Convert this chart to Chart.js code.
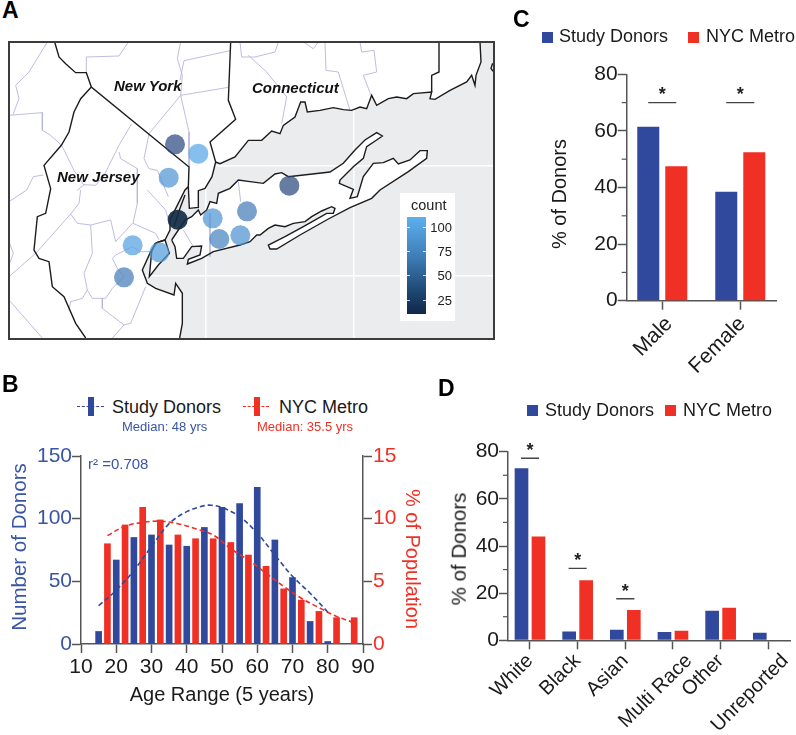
<!DOCTYPE html>
<html>
<head>
<meta charset="utf-8">
<script src="https://cdn.jsdelivr.net/npm/chart.js@4"></script>
<style>
  html, body { margin: 0; padding: 0; background: #fff; }
  body { position: relative; width: 796px; height: 735px; overflow: hidden; font-family: "Liberation Sans", Arial, sans-serif; color: #1a1a1a; }
  canvas { position: absolute; }
  .txt { position: absolute; white-space: nowrap; line-height: 1; }
  .box { position: absolute; }
</style>
</head>
<body>
<canvas id="mapChart" width="484" height="296" style="left:9px;top:42px"></canvas>
<canvas id="ageChart" width="450" height="305" style="left:0;top:430px"></canvas>
<canvas id="sexChart" width="296" height="335" style="left:500px;top:50px"></canvas>
<canvas id="raceChart" width="356" height="335" style="left:440px;top:400px"></canvas>
<script>
// Panel A: map units are just a grid laid over the map frame
const sites = ['s1', 's2', 's3', 's4', 's5', 's6', 's7', 's8', 's9', 's10', 's11', 's12'];
const siteX = [525, 595, 506, 533, 638, 741, 868, 658, 721, 398, 478, 372];
const siteY = [433, 461, 533, 659, 655, 634, 557, 717, 706, 736, 757, 832];
const siteCount = [45, 105, 95, 8, 95, 78, 43, 82, 92, 102, 98, 78];
const countTicks = [100, 75, 50, 25];

const mainCoast = [[1440,126],[1443,186],[1428,226],[1425,256],[1415,226],[1400,246],[1350,271],[1305,298],[1290,296],[1295,276],[1240,281],[1220,296],[1190,291],[1165,296],[1130,316],[1115,286],[1100,326],[1080,321],[1055,331],[1030,329],[1000,323],[960,331],[922,336],[915,306],[902,306],[885,351],[850,376],[840,401],[815,393],[785,421],[745,421],[705,471],[660,491],[647,486],[636,530],[615,565],[595,572],[595,622],[568,625],[565,560],[555,570],[530,620],[510,660],[510,690],[495,720],[470,728],[452,755],[427,810],[442,850],[467,865],[522,885],[527,850],[547,880],[547,970],[539,1014]];
const longIsland = [[515,720],[555,660],[575,650],[595,630],[602,645],[620,630],[630,605],[650,610],[655,580],[690,565],[715,540],[750,545],[790,550],[825,522],[845,518],[865,530],[990,516],[1030,490],[1065,450],[1095,420],[1130,398],[1147,408],[1130,420],[1100,440],[1090,475],[1060,500],[1020,540],[1018,550],[1060,568],[1050,595],[1072,590],[1090,530],[1120,490],[1150,488],[1180,475],[1195,492],[1230,480],[1260,452],[1282,452],[1280,475],[1225,515],[1140,570],[1115,595],[1050,623],[985,657],[900,705],[830,747],[810,747],[805,735],[855,710],[910,680],[980,640],[1000,640],[1005,625],[995,620],[965,633],[935,650],[915,665],[880,670],[855,680],[825,675],[805,685],[780,705],[770,705],[750,725],[720,735],[640,755],[605,775],[562,792],[565,778],[600,765],[605,738],[575,740],[550,775],[530,775],[525,740]];
const statenIsland = [[465,730],[495,720],[508,760],[475,795],[448,830],[455,755]];
const stateLines = [
  [[164,126],[177,171],[197,191],[227,218],[259,218],[274,261],[567,501],[565,560]],
  [[274,261],[242,296],[222,336],[207,396],[184,436],[132,496],[152,566],[137,640],[112,650],[102,750],[117,775],[147,785],[157,860],[192,890],[227,970],[257,1014]],
  [[692,126],[685,301],[707,358],[630,426],[647,486]],
  [[1317,126],[1317,216],[1295,226],[1295,276]],
  [[555,585],[540,625],[522,680]],
  [[1478,190],[1473,205],[1479,214]]
];
const countyLines = [
  [[27,346],[127,338],[127,391],[152,406],[185,436],[222,511],[252,556]],
  [[142,126],[87,216],[47,256],[57,296],[39,343]],
  [[259,218],[259,171],[357,168],[385,126]],
  [[542,126],[532,176],[547,226],[542,286],[567,396],[567,501]],
  [[690,152],[552,182],[540,240]],
  [[685,262],[542,286],[447,401],[432,476],[447,506],[472,511],[480,530],[505,590]],
  [[395,371],[357,436],[312,526],[287,556],[252,554],[232,571]],
  [[357,456],[362,476],[412,506],[412,610],[399,670],[467,700],[477,720]],
  [[442,570],[497,630],[505,660]],
  [[242,570],[237,610],[212,642],[107,760],[27,830]],
  [[212,642],[232,670],[272,675],[332,660],[347,725],[397,670]],
  [[272,675],[277,760],[252,820],[262,870],[277,895],[317,895],[337,865],[372,830]],
  [[262,870],[247,895],[212,905],[207,930]],
  [[307,895],[307,925],[372,975],[337,1014]],
  [[372,975],[392,970],[437,860]],
  [[27,900],[127,1014]],
  [[27,725],[40,760],[27,795]],
  [[27,605],[80,570],[100,530],[130,525]],
  [[337,775],[347,765],[397,740],[422,755],[452,755]],
  [[337,775],[352,805],[372,830]],
  [[715,545],[722,605]],
  [[630,640],[630,770]],
  [[550,690],[580,740]],
  [[720,126],[725,171],[765,171],[825,156],[835,126]],
  [[745,166],[800,216],[860,291],[845,371]],
  [[975,126],[978,211],[1015,216],[1030,266],[1050,331]],
  [[1080,126],[1085,156],[1122,151],[1130,216],[1090,226],[1115,291]],
  [[910,126],[940,146],[955,126]]
];
const mapGridX = [616, 1060];
const mapGridY = [497, 826];

// Panel B
const donorAge = [15, 20, 25, 30, 35, 40, 45, 50, 55, 60, 65, 70, 75, 80];
const donorCount = [10, 67, 85, 87, 79, 78, 93, 109, 112, 125, 83, 53, 18, 2];
const donorFitAge = [15, 20, 25, 30, 35, 40, 45, 47, 50, 55, 60, 65, 70, 75, 80];
const donorFit = [30.5, 43, 58.7, 77.8, 96, 105.6, 110.4, 110.7, 108.9, 101.7, 88.4, 71, 54, 40.5, 25.5];
const metroAge = [17.5, 22.5, 27.5, 32.5, 37.5, 42.5, 47.5, 52.5, 57.5, 62.5, 67.5, 72.5, 77.5, 82.5, 87.5];
const metroPct = [8.0, 9.5, 10.9, 9.9, 8.7, 8.4, 8.4, 8.1, 7.1, 6.2, 4.4, 3.5, 2.6, 2.1, 2.1];
const metroFit = [8.65, 9.4, 9.7, 9.8, 9.6, 9.2, 8.7, 7.6, 6.7, 5.65, 4.6, 3.65, 2.9, 2.2, 1.7];

// Panel C
const sexLabels = ['Male', 'Female'];
const sexDonors = [61.5, 38.5];
const sexMetro = [47.5, 52.5];
const sexSigAt = [0, 1];
const sexSigY = [70, 70];

// Panel D
const raceLabels = ['White', 'Black', 'Asian', 'Multi Race', 'Other', 'Unreported'];
const raceDonors = [73, 3.7, 4.5, 3.5, 12.5, 3.2];
const raceMetro = [44, 25.5, 12.8, 4, 13.8, null];
const raceSigAt = [0, 1, 2];
const raceSigY = [77.2, 30.5, 17.6];

const BLUE = '#31499c';
const RED = '#f03024';
const BLUE_TXT = '#3a55a5';
const AXIS = '#555';
const FONT = '"Liberation Sans", Arial, sans-serif';

Chart.defaults.font.family = FONT;
Chart.defaults.animation = false;
Chart.defaults.responsive = false;
Chart.defaults.plugins.legend.display = false;
Chart.defaults.plugins.tooltip.enabled = false;

function xy(pairs) {
  return pairs.map(p => ({ x: p[0], y: p[1] }));
}

function mix(a, b, t) {
  return a.map((v, i) => Math.round(v + (b[i] - v) * t));
}

function countColor(c) {
  const t = Math.min(1, Math.max(0, (c - 8) / 100));
  const low = [19, 43, 67], mid = [45, 75, 130], high = [90, 170, 235];
  const rgb = t < 0.37 ? mix(low, mid, t / 0.37) : mix(mid, high, (t - 0.37) / 0.63);
  const a = c < 20 ? 0.92 : 0.72;
  return 'rgba(' + rgb.join(',') + ',' + a + ')';
}

function addText(str, x, y, css) {
  const el = document.createElement('span');
  el.className = 'txt';
  el.textContent = str;
  el.style.left = x + 'px';
  el.style.top = y + 'px';
  el.style.transform = 'translateY(-50%)';
  Object.assign(el.style, css || {});
  document.body.appendChild(el);
  return el;
}

function addBox(x, y, w, h, color, css) {
  const el = document.createElement('div');
  el.className = 'box';
  el.style.left = x + 'px';
  el.style.top = y + 'px';
  el.style.width = w + 'px';
  el.style.height = h + 'px';
  el.style.background = color;
  Object.assign(el.style, css || {});
  document.body.appendChild(el);
  return el;
}

function rotatedTitle(str, x, y, deg, size, color) {
  addText(str, x, y, {
    fontSize: size + 'px',
    color: color,
    transform: 'translate(-50%,-50%) rotate(' + deg + 'deg)'
  });
}

// land has to go on top of the white graticule but under everything else
const landFill = {
  id: 'landFill',
  beforeDatasetsDraw(chart) {
    const { ctx, scales } = chart;
    const corners = [[27, 1014], [27, 126]];
    const shapes = [mainCoast.concat(corners), longIsland, statenIsland];
    ctx.save();
    ctx.fillStyle = '#fff';
    shapes.forEach(s => {
      ctx.beginPath();
      s.forEach((p, i) => {
        const px = scales.x.getPixelForValue(p[0]);
        const py = scales.y.getPixelForValue(p[1]);
        if (i === 0) ctx.moveTo(px, py); else ctx.lineTo(px, py);
      });
      ctx.closePath();
      ctx.fill();
    });
    ctx.restore();
  }
};

const mapBackground = {
  id: 'mapBackground',
  beforeDraw(chart) {
    chart.ctx.fillStyle = '#ebecee';
    chart.ctx.fillRect(0, 0, chart.width, chart.height);
  }
};

const minorTicks = {
  id: 'minorTicks',
  afterDraw(chart, args, opts) {
    if (!opts.values) return;
    const s = chart.scales.y;
    const ctx = chart.ctx;
    ctx.save();
    ctx.strokeStyle = AXIS;
    ctx.lineWidth = 1.2;
    opts.values.forEach(v => {
      const y = s.getPixelForValue(v);
      ctx.beginPath();
      ctx.moveTo(s.right, y);
      ctx.lineTo(s.right - 5, y);
      ctx.stroke();
    });
    ctx.restore();
  }
};

const sigStars = {
  id: 'sigStars',
  afterDatasetsDraw(chart, args, opts) {
    if (!opts.at) return;
    const ctx = chart.ctx;
    ctx.save();
    ctx.fillStyle = '#222';
    ctx.font = 'bold 18px ' + FONT;
    ctx.textAlign = 'center';
    ctx.textBaseline = 'middle';
    opts.at.forEach((a, i) => {
      ctx.fillText('*', chart.scales.x.getPixelForValue(a), chart.scales.y.getPixelForValue(opts.y[i]) - opts.lift);
    });
    ctx.restore();
  }
};

// the original figure nudges some rotated labels sideways
const labelShift = {
  id: 'labelShift',
  beforeDraw(chart, args, opts) {
    if (!opts.dx) return;
    chart.scales.x.getLabelItems().forEach((item, i) => {
      item.options.translation[0] += opts.dx[i];
    });
  }
};

Chart.register(minorTicks, sigStars, labelShift);

// Panel A
const mapDatasets = [{
  label: 'count',
  data: sites.map((s, i) => ({ x: siteX[i], y: siteY[i] })),
  pointRadius: 10,
  pointBorderWidth: 0,
  pointBackgroundColor: siteCount.map(countColor),
  showLine: false
}];
stateLines.concat([mainCoast, longIsland.concat([longIsland[0]]), statenIsland.concat([statenIsland[0]])]).forEach(l => {
  mapDatasets.push({ data: xy(l), showLine: true, borderColor: '#1c1c1c', borderWidth: 1.4, pointRadius: 0, tension: 0 });
});
countyLines.forEach(l => {
  mapDatasets.push({ data: xy(l), showLine: true, borderColor: '#b6b6dc', borderWidth: 0.9, pointRadius: 0, tension: 0 });
});

new Chart(document.getElementById('mapChart'), {
  type: 'scatter',
  data: { datasets: mapDatasets },
  plugins: [mapBackground, landFill],
  options: {
    layout: { padding: 0, autoPadding: false },
    scales: {
      x: {
        min: 27, max: 1479,
        border: { display: false },
        grid: { color: '#fff', lineWidth: 1.5, drawTicks: false },
        ticks: { display: false },
        afterBuildTicks: s => { s.ticks = mapGridX.map(v => ({ value: v })); },
        afterFit: s => { s.height = 0; }
      },
      y: {
        min: 126, max: 1014, reverse: true,
        border: { display: false },
        grid: { color: '#fff', lineWidth: 1.5, drawTicks: false },
        ticks: { display: false },
        afterBuildTicks: s => { s.ticks = mapGridY.map(v => ({ value: v })); },
        afterFit: s => { s.width = 0; }
      }
    }
  }
});

addBox(8, 41, 483, 295, 'transparent', { border: '2px solid #3c3c3c' });

const mapLabel = { fontSize: '15px', fontWeight: 'bold', fontStyle: 'italic', color: '#111' };
addText('New York', 114, 85, mapLabel);
addText('New Jersey', 57, 176, mapLabel);
addText('Connecticut', 252, 87, mapLabel);

// count legend
addBox(400, 193, 55, 128, '#fff');
addText('count', 411, 205, { fontSize: '14.5px', color: '#222' });
addBox(407, 217, 19, 97, 'linear-gradient(#5cb0ee,#3f7fb8 40%,#1d4570 78%,#10284a)');
const tickY = [227, 251.3, 275.3, 299.7];
countTicks.forEach((c, i) => {
  addBox(407, tickY[i], 3, 1, 'rgba(255,255,255,.8)');
  addBox(423, tickY[i], 3, 1, 'rgba(255,255,255,.8)');
  addText(String(c), 0, tickY[i], { left: 'auto', right: (796 - 452) + 'px', fontSize: '13px', color: '#222' });
});

// Panel B
const axisBase = {
  border: { color: AXIS, width: 1.5 },
  grid: { drawOnChartArea: false, color: AXIS, tickColor: AXIS, tickWidth: 1.5, tickLength: 9 }
};

new Chart(document.getElementById('ageChart'), {
  type: 'bar',
  data: {
    datasets: [
      { type: 'line', data: donorFitAge.map((a, i) => ({ x: a, y: donorFit[i] })), yAxisID: 'y', borderColor: BLUE, borderWidth: 1.6, borderDash: [5, 3], pointRadius: 0, tension: 0.35 },
      { type: 'line', data: metroAge.map((a, i) => ({ x: a, y: metroFit[i] })), yAxisID: 'y2', borderColor: RED, borderWidth: 1.6, borderDash: [5, 3], pointRadius: 0, tension: 0.35 },
      { data: donorAge.map((a, i) => ({ x: a, y: donorCount[i] })), yAxisID: 'y', backgroundColor: BLUE, barThickness: 6, grouped: false },
      { data: metroAge.map((a, i) => ({ x: a, y: metroPct[i] })), yAxisID: 'y2', backgroundColor: RED, barThickness: 6, grouped: false }
    ]
  },
  options: {
    layout: { padding: { top: 26 } },
    scales: {
      x: {
        ...axisBase,
        type: 'linear', offset: false, min: 10, max: 90,
        grid: { ...axisBase.grid, offset: false },
        ticks: { stepSize: 10, color: '#1a1a1a', font: { size: 21 }, padding: 2, maxRotation: 0 },
        title: { display: true, text: 'Age Range (5 years)', color: '#1a1a1a', font: { size: 20 }, padding: { top: 0, bottom: 28 } },
        afterFit: s => { s.height = 91; }
      },
      y: {
        ...axisBase,
        position: 'left', min: 0, max: 150,
        ticks: { stepSize: 50, color: BLUE_TXT, font: { size: 21 }, padding: 0 },
        afterFit: s => { s.width = 81; }
      },
      y2: {
        ...axisBase,
        position: 'right', min: 0, max: 15,
        ticks: { stepSize: 5, color: RED, font: { size: 21 }, padding: 1 },
        afterFit: s => { s.width = 87; }
      }
    }
  }
});

rotatedTitle('Number of Donors', 19, 547, -90, 20.5, BLUE_TXT);
rotatedTitle('% of Population', 413, 559, 90, 20, RED);

const legendFont = { fontSize: '18px', color: '#1a1a1a' };
addBox(77, 406, 27, 0, 'transparent', { borderTop: '1.6px dashed ' + BLUE });
addBox(87.5, 397, 6, 19, BLUE);
addText('Study Donors', 112, 407, legendFont);
addBox(243, 406, 26, 0, 'transparent', { borderTop: '1.6px dashed ' + RED });
addBox(254, 397, 6, 19, RED);
addText('NYC Metro', 279, 407, legendFont);
addText('Median: 48 yrs', 122, 426, { fontSize: '13px', color: BLUE_TXT });
addText('Median: 35.5 yrs', 257, 426, { fontSize: '13px', color: RED });
addText('r² =0.708', 88, 463, { fontSize: '15px', color: BLUE_TXT });

// Panels C and D
function percentChart(id, labels, donors, metro, o) {
  const index = labels.map((l, i) => i);
  const brackets = o.sigAt.map((a, i) => ({
    type: 'line',
    data: [{ x: a - o.sigHalf, y: o.sigY[i] }, { x: a + o.sigHalf, y: o.sigY[i] }],
    borderColor: '#444', borderWidth: 1.4, pointRadius: 0
  }));
  return new Chart(document.getElementById(id), {
    type: 'bar',
    data: {
      labels: index,
      datasets: brackets.concat([
        { data: donors, backgroundColor: BLUE, categoryPercentage: o.catPct, barPercentage: o.barPct },
        { data: metro, backgroundColor: RED, categoryPercentage: o.catPct, barPercentage: o.barPct }
      ])
    },
    options: {
      layout: { padding: { top: o.top, right: o.right } },
      plugins: {
        minorTicks: { values: [10, 30, 50, 70] },
        sigStars: { at: o.sigAt, y: o.sigY, lift: o.starLift },
        labelShift: { dx: o.labelDx }
      },
      scales: {
        x: {
          ...axisBase,
          type: 'linear', offset: false, min: o.xMin, max: o.xMax,
          grid: { ...axisBase.grid, offset: false },
          afterBuildTicks: s => { s.ticks = index.map(v => ({ value: v })); },
          ticks: {
            callback: v => labels[v], autoSkip: false, minRotation: 45, maxRotation: 45,
            color: '#1a1a1a', font: { size: o.labelSize }, padding: o.labelPad
          },
          afterFit: s => { s.height = o.xHeight; }
        },
        y: {
          ...axisBase,
          min: 0, max: 80,
          ticks: { stepSize: 20, color: '#1a1a1a', font: { size: 21 }, padding: 0 },
          afterFit: s => { s.width = o.yWidth; }
        }
      }
    }
  });
}

percentChart('sexChart', sexLabels, sexDonors, sexMetro, {
  top: 24.3, right: 19.3, yWidth: 126.7, xHeight: 84.3,
  xMin: -0.456, xMax: 1.467, catPct: 0.718, barPct: 0.786, labelSize: 21, labelPad: 2, labelDx: [7, 2],
  sigAt: sexSigAt, sigY: sexSigY, sigHalf: 0.18, starLift: 8
});

percentChart('raceChart', raceLabels, raceDonors, raceMetro, {
  top: 51.7, right: 5.3, yWidth: 68, xHeight: 94.7,
  xMin: -0.4615, xMax: 5.47, catPct: 0.713, barPct: 0.805, labelSize: 20, labelPad: 0, labelDx: [0, 0, 0, 16, 0, 17],
  sigAt: raceSigAt, sigY: raceSigY, sigHalf: 0.19, starLift: 7
});

rotatedTitle('% of Donors', 559, 194, -90, 20, '#1a1a1a');
rotatedTitle('% of Donors', 459, 549, -90, 20.5, '#1a1a1a');

addBox(541.5, 32, 11, 10.5, BLUE);
addText('Study Donors', 559, 36, legendFont);
addBox(687.5, 32, 11, 10.5, RED);
addText('NYC Metro', 706, 36, legendFont);

addBox(527, 405, 11, 11, BLUE);
addText('Study Donors', 545, 410, legendFont);
addBox(664.5, 405, 11, 11, RED);
addText('NYC Metro', 683, 410, legendFont);

// panel letters
const letter = { fontSize: '23px', fontWeight: 'bold', color: '#000' };
addText('A', 2, 10, letter);
addText('B', 2, 384, letter);
addText('C', 513, 19, letter);
addText('D', 438, 388, letter);
</script>
</body>
</html>
